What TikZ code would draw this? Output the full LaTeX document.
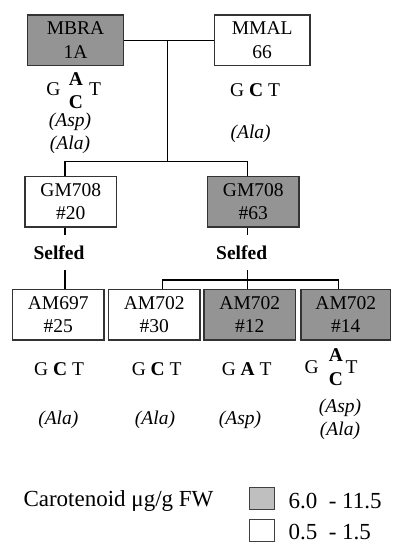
\documentclass[tikz,border=0pt]{standalone}
\usepackage{fontspec}
\setmainfont{Liberation Serif}
\begin{document}
\begin{tikzpicture}[x=1pt,y=-1pt,
  box/.style={draw=black!80, line width=1.2pt, minimum width=91pt, minimum height=50.5pt,
    inner sep=0pt, align=center, font=\fontsize{19.5}{23.3}\selectfont},
  hi/.style={box, fill=black!42},
  lo/.style={box, fill=white},
  conn/.style={line width=1.1pt, black},
  selfed/.style={inner sep=0pt, minimum height=35pt, font=\fontsize{19.5}{23}\selectfont\bfseries},
  gt/.style={anchor=base, inner sep=0pt, font=\fontsize{19.5}{23}\selectfont},
  gtb/.style={gt, font=\fontsize{19.5}{23}\selectfont\bfseries},
  aa/.style={anchor=base, inner sep=0pt, font=\fontsize{19.5}{23}\selectfont\itshape},
  leg/.style={anchor=base west, inner sep=0pt, font=\fontsize{23}{26}\selectfont},
  swatch/.style={draw=black!75, line width=0.9pt, minimum width=25pt, minimum height=22pt, inner sep=0pt}]
\useasboundingbox (0,0) rectangle (392,544);

% boxes
\node[hi, minimum width=95.6pt] (MBRA) at (75.5,40.2) {MBRA\\1A};
\node[lo, minimum width=95.6pt] (MMAL) at (262.2,40.2) {MMAL\\66};
\node[lo, minimum width=91.7pt] (GM20) at (70.8,201.7) {GM708\\\#20};
\node[hi, minimum width=91.3pt] (GM63) at (253.3,201.7) {GM708\\\#63};
\node[lo, minimum width=91.7pt] (AM697) at (58.2,314.7) {AM697\\\#25};
\node[lo, minimum width=91.7pt] (AM30) at (154.2,314.7) {AM702\\\#30};
\node[hi, minimum width=91.7pt] (AM12) at (249.8,314.7) {AM702\\\#12};
\node[hi, minimum width=89.7pt] (AM14) at (345.8,314.7) {AM702\\\#14};

% selfed labels
\node[selfed] (S1) at (59,252.5) {Selfed};
\node[selfed] (S2) at (241.7,252.5) {Selfed};

% connectors
\coordinate (j1) at (167.7,40.2);
\coordinate (j2) at (167.7,161.7);
\coordinate (b20) at (65,161.7);
\coordinate (b63) at (247.3,161.7);
\coordinate (k) at (247.3,280);
\coordinate (k30) at (162.3,280);
\coordinate (k14) at (338.3,280);
\draw[conn] (MBRA.east) -- (MMAL.west);
\draw[conn] (j1) -- (j2);
\draw[conn] (b20 |- GM20.north) -- (b20) -- (b63) -- (b63 |- GM63.north);
\draw[conn] (b20 |- GM20.south) -- (b20 |- S1.north);
\draw[conn] (b20 |- S1.south) -- (b20 |- AM697.north);
\draw[conn] (b63 |- GM63.south) -- (b63 |- S2.north);
\draw[conn] (b63 |- S2.south) -- (k);
\draw[conn] (k30 |- AM30.north) -- (k30) -- (k14) -- (k14 |- AM14.north);
\draw[conn] (k) -- (k |- AM12.north);

% genotypes top
\node[gt] (g1G) at (53.3,95) {G};
\node[gtb] (g1A) at (75.8,85) {A};
\node[gtb] (g1C) at (75.8,108.3) {C};
\node[gt] (g1T) at (95,95) {T};
\node[aa] (a1a) at (70,126.5) {(Asp)};
\node[aa] (a1b) at (70,149.3) {(Ala)};
\node[gt] (g2) at (255,96.7) {G \textbf{C} T};
\node[aa] (a2) at (250.7,138.3) {(Ala)};

% genotypes bottom
\node[gt] (g3) at (59,375) {G \textbf{C} T};
\node[gt] (g4) at (156.7,375) {G \textbf{C} T};
\node[gt] (g5) at (246.7,375) {G \textbf{A} T};
\node[gt] (g6G) at (311.7,373.3) {G};
\node[gtb] (g6A) at (335.8,361.7) {A};
\node[gtb] (g6C) at (335.8,385) {C};
\node[gt] (g6T) at (351.7,373.3) {T};
\node[aa] (a3) at (58.3,424.3) {(Ala)};
\node[aa] (a4) at (155,424.3) {(Ala)};
\node[aa] (a5) at (240,424.3) {(Asp)};
\node[aa] (a6a) at (340,412.7) {(Asp)};
\node[aa] (a6b) at (340,435.3) {(Ala)};

% legend
\node[leg] (legt) at (23.3,506.7) {Carotenoid μg/g FW};
\node[swatch, fill=black!25] (sw1) at (261.5,498.5) {};
\node[swatch, fill=white] (sw2) at (261.5,530.5) {};
\node[leg] (l1) at (288.3,508) {6.0\ \ - 11.5};
\node[leg] (l2) at (288.3,539) {0.5\ \ - 1.5};
\end{tikzpicture}
\end{document}
